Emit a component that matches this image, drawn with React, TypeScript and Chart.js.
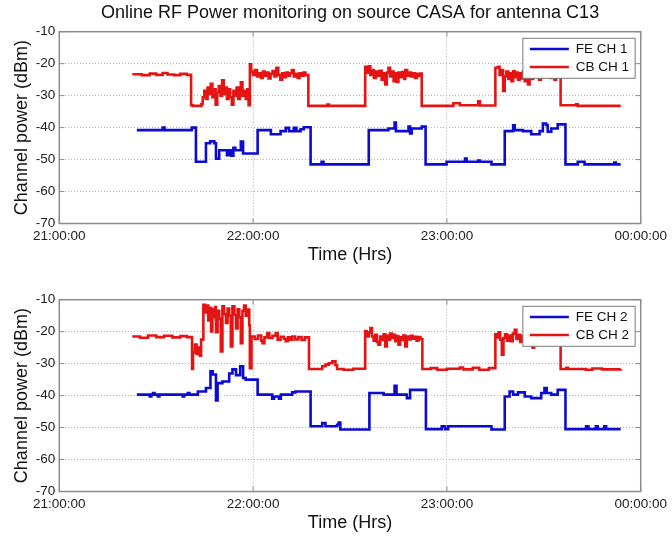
import React, { useEffect, useRef } from "react";
import { Chart, registerables } from "chart.js";

Chart.register(...registerables);

// ---------- text ----------
const TITLE = "Online RF Power monitoring on source CASA for antenna C13";
const X_TITLE = "Time (Hrs)";
const Y_TITLE = "Channel power (dBm)";
const X_TICK_LABELS = ["21:00:00", "22:00:00", "23:00:00", "00:00:00"]; // every 60 min from 21:00
const Y_MIN = -70;
const Y_MAX = -10;
const Y_STEP = 10;

// ---------- data: [minutes after 21:00, dBm] ----------
const feCh1: [number, number][] = [
  [24.0, -40.8], [32.0, -40.0], [32.6, -40.8], [41.0, -40.0], [42.3, -50.7], [45.4, -44.9], [46.7, -44.3],
  [48.0, -44.9], [48.5, -49.7], [49.5, -47.1], [51.9, -48.6], [52.6, -47.1], [53.3, -48.8], [53.9, -46.3],
  [54.5, -47.1], [56.2, -44.4], [56.9, -48.1], [61.4, -40.8], [65.5, -42.1], [68.5, -41.1], [70.1, -40.1],
  [71.1, -41.1], [72.6, -40.1], [73.4, -41.1], [74.7, -40.5], [75.7, -39.9], [77.8, -51.5], [81.2, -50.7],
  [81.8, -51.5], [95.8, -40.8], [101.9, -40.3], [103.8, -38.4], [104.2, -41.1], [108.1, -39.7], [108.6, -41.8],
  [109.1, -40.3], [112.2, -39.7], [113.4, -51.5], [119.9, -50.7], [125.6, -49.7], [126.1, -50.7], [129.7, -50.3],
  [130.2, -50.7], [133.8, -51.5], [137.9, -41.1], [140.5, -39.3], [141.0, -40.8], [143.5, -41.1], [146.1, -42.1],
  [148.7, -41.1], [149.7, -38.7], [150.7, -39.2], [151.2, -41.3], [152.3, -40.3], [154.3, -39.0], [156.7, -51.5],
  [160.5, -50.7], [162.6, -51.5], [171.8, -50.9], [172.3, -51.5], [173.8, -51.5],
];

const cbCh1: [number, number][] = [
  [22.6, -23.3], [25.5, -23.6], [28.0, -23.1], [30.0, -23.5], [32.0, -22.9], [33.5, -23.4], [35.5, -23.6],
  [37.5, -23.2], [39.5, -23.5], [40.8, -33.0], [41.3, -33.2], [44.0, -32.6],
  [44.4, -30.5], [44.9, -28.5], [45.4, -31.0], [45.9, -27.5], [46.4, -29.5], [46.9, -26.3], [47.4, -30.5],
  [47.9, -28.0], [48.4, -32.8], [48.9, -29.0], [49.4, -27.0], [49.9, -30.0], [50.4, -25.2], [50.9, -29.5],
  [51.4, -27.5], [51.9, -31.0], [52.4, -28.0], [52.9, -30.5], [53.4, -32.8], [53.9, -28.5], [54.4, -30.0],
  [54.9, -27.5], [55.4, -31.0], [55.9, -28.0], [56.2, -25.8], [56.7, -30.0], [57.2, -28.5], [57.7, -31.0],
  [58.2, -28.0], [58.6, -33.0],
  [59.0, -20.2], [59.4, -22.5], [60.0, -23.5], [60.6, -22.0], [61.2, -24.0], [61.8, -23.0], [62.4, -24.5],
  [63.0, -22.5], [63.6, -23.8], [64.2, -22.8], [64.8, -24.6], [65.4, -23.2], [66.0, -22.3], [66.6, -24.0],
  [67.2, -21.3], [67.8, -23.5], [68.4, -25.0], [69.0, -23.0], [69.6, -24.2], [70.2, -22.8], [70.8, -23.8],
  [71.4, -23.0], [72.0, -22.0], [72.6, -24.0], [73.2, -23.2], [73.8, -24.5], [74.4, -23.0], [75.0, -23.8],
  [75.6, -22.8], [76.2, -23.6],
  [77.1, -33.2], [83.0, -32.8], [83.5, -33.2],
  [94.7, -21.0], [95.2, -22.8], [95.8, -20.8], [96.3, -23.5], [96.8, -22.0], [97.4, -24.5], [98.0, -22.5],
  [98.6, -23.8], [99.2, -22.2], [99.8, -25.0], [100.4, -23.0], [100.9, -26.5], [101.4, -22.8], [101.9, -21.3],
  [102.4, -24.0], [103.0, -22.5], [103.5, -25.5], [104.0, -23.0], [104.5, -25.7], [105.0, -22.8], [105.6, -24.2],
  [106.2, -22.6], [106.8, -24.8], [107.1, -22.0], [107.7, -23.8], [108.3, -22.8], [108.9, -24.0], [109.5, -23.0],
  [110.1, -24.5], [110.7, -23.2], [111.3, -23.8], [111.8, -23.1],
  [112.2, -33.2], [122.0, -32.4], [124.0, -33.0], [129.7, -31.8], [130.2, -33.1],
  [135.0, -21.3], [135.8, -21.0], [136.3, -23.5], [136.9, -22.0], [137.4, -28.5], [137.9, -24.0], [138.4, -22.5],
  [139.0, -24.8], [139.5, -23.0], [140.0, -25.5], [140.5, -22.4], [141.0, -24.2], [141.5, -22.8], [142.0, -25.0],
  [142.5, -23.0], [143.0, -24.6], [143.5, -22.5], [144.1, -25.5], [144.6, -23.2], [145.1, -26.5], [145.6, -23.0],
  [146.1, -24.8], [146.7, -22.8], [147.3, -24.0], [147.9, -23.2], [148.5, -25.0], [149.1, -23.0], [149.7, -24.3],
  [150.3, -22.9], [150.9, -24.0], [151.5, -23.3], [152.1, -24.5], [152.7, -23.0], [153.3, -25.0], [153.8, -24.2],
  [154.3, -23.5],
  [155.2, -33.0], [160.0, -32.7], [160.5, -33.2], [173.8, -33.2],
];

const feCh2: [number, number][] = [
  [24.0, -39.7], [28.0, -40.3], [28.5, -39.7], [29.0, -39.2], [29.5, -39.7], [30.5, -40.3], [31.0, -39.7],
  [38.2, -40.3], [38.7, -39.7], [39.8, -39.2], [40.3, -39.7], [42.9, -38.7], [45.4, -37.6], [46.8, -32.4],
  [47.5, -33.4], [48.5, -41.5], [49.0, -36.1], [50.5, -35.6], [52.6, -33.1], [53.6, -31.8], [54.7, -33.6],
  [56.0, -30.8], [56.9, -34.5], [57.7, -35.0], [61.4, -39.7], [65.9, -41.0], [66.5, -40.3], [68.0, -41.0],
  [68.6, -39.7], [72.1, -39.0], [73.1, -38.7], [77.8, -49.6], [81.4, -48.6], [82.4, -49.6], [86.0, -49.1],
  [86.5, -48.4], [87.0, -50.6], [96.0, -39.2], [100.4, -39.7], [103.8, -36.9], [104.4, -39.7], [107.6, -40.8],
  [108.6, -38.2], [113.5, -50.5], [118.4, -49.6], [119.4, -50.5], [120.4, -49.6], [133.8, -50.6], [137.9, -40.3],
  [139.4, -38.7], [140.5, -39.7], [142.0, -39.0], [144.1, -40.3], [146.1, -40.8], [149.2, -39.2], [150.2, -37.6],
  [150.9, -39.2], [152.3, -39.7], [154.3, -38.2], [156.7, -50.5], [163.1, -49.6], [163.8, -50.5], [166.1, -49.6],
  [166.7, -50.5], [168.7, -49.6], [169.3, -50.5], [173.8, -50.5],
];

const cbCh2: [number, number][] = [
  [22.6, -21.5], [25.0, -21.9], [27.5, -21.2], [30.0, -21.7], [32.5, -21.3], [35.0, -21.8], [37.5, -21.4],
  [39.5, -21.7], [41.1, -31.7], [41.4, -26.5], [42.0, -24.0], [42.5, -27.0], [43.0, -25.0], [43.5, -27.5],
  [43.9, -22.5], [44.6, -11.6],
  [45.1, -14.0], [45.6, -11.8], [46.1, -16.5], [46.6, -12.5], [47.0, -19.9], [47.4, -13.0], [47.9, -15.5],
  [48.3, -12.3], [48.5, -20.2], [49.0, -13.5], [49.5, -16.0], [50.0, -26.2], [50.5, -12.1], [51.0, -14.5],
  [51.6, -17.3], [52.1, -12.8], [52.6, -15.0], [53.1, -24.6], [53.6, -12.1], [54.2, -14.8], [54.7, -19.0],
  [55.2, -13.0], [55.7, -15.5], [56.2, -23.6], [56.7, -13.5], [57.2, -11.8], [57.7, -15.0], [58.3, -13.1],
  [58.8, -18.0], [59.0, -31.4], [59.5, -21.5],
  [60.5, -22.3], [61.5, -21.2], [62.5, -22.8], [62.9, -23.6], [63.5, -21.8], [64.4, -20.4], [65.0, -22.0],
  [66.0, -21.3], [67.0, -20.4], [67.6, -22.5], [68.5, -21.6], [69.5, -22.2], [70.1, -23.0], [70.8, -21.8],
  [71.5, -22.5], [72.1, -21.5], [73.0, -22.4], [74.0, -21.7], [75.0, -22.6], [76.0, -21.8],
  [77.3, -31.7], [81.4, -30.8], [82.4, -30.3], [83.4, -29.9], [84.5, -29.3], [85.5, -30.5], [86.0, -31.7],
  [88.0, -31.9], [91.0, -31.6],
  [94.7, -19.8], [95.2, -21.5], [95.8, -20.3], [96.3, -18.9], [96.8, -21.5], [97.3, -22.8], [97.8, -21.0],
  [98.3, -23.2], [98.8, -24.1], [99.3, -21.5], [99.9, -22.6], [100.4, -20.8], [100.9, -24.6], [101.4, -21.2],
  [101.9, -22.5], [102.4, -20.6], [103.0, -22.0], [103.5, -21.0], [104.0, -23.0], [104.5, -21.4], [105.0, -24.1],
  [105.5, -21.8], [106.0, -22.6], [106.5, -21.2], [107.1, -24.6], [107.6, -21.5], [108.2, -22.4], [108.8, -21.3],
  [109.4, -22.2], [110.0, -21.6], [110.6, -22.8], [111.2, -21.7], [111.8, -22.3],
  [112.4, -31.7], [115.0, -31.4], [117.0, -31.9], [120.0, -31.6], [124.0, -31.2], [125.0, -31.8], [128.0, -31.3],
  [130.0, -31.9], [133.0, -31.4],
  [135.0, -20.8], [135.5, -21.8], [136.0, -20.2], [136.5, -22.5], [137.0, -27.2], [137.5, -22.0], [138.0, -20.8],
  [138.6, -22.8], [139.2, -21.2], [139.8, -23.0], [140.4, -20.6], [141.0, -19.4], [141.5, -22.3], [142.1, -21.0],
  [142.7, -23.2], [143.3, -21.4], [143.9, -22.6], [144.5, -21.3], [145.2, -22.8], [146.0, -21.5], [146.5, -25.0],
  [147.0, -22.0], [148.0, -21.4], [149.0, -22.5], [150.0, -21.2], [151.0, -22.3], [152.0, -21.5], [153.0, -22.6],
  [154.0, -21.8],
  [155.2, -31.7], [157.0, -31.3], [157.5, -31.7], [163.0, -31.9], [165.0, -31.5], [168.0, -31.8], [173.8, -31.7],
];

// ---------- style ----------
const FONT = "'Liberation Sans', Arial, Helvetica, sans-serif";
const BLUE = "#0b0bd2";
const RED = "#e41414";
const AXIS_COLOR = "#8c8c8c";
const GRID_COLOR = "#b4b4b4";
const TEXT_COLOR = "#111111";
const W = 672;
const H = 268;

const frameLegend = {
  id: "frameLegend",
  afterDatasetsDraw(chart: any, _args: any, opts: any) {
    const { ctx, chartArea: a, scales } = chart;
    const xs = scales.x;
    const ys = scales.y;
    const line = (x1: number, y1: number, x2: number, y2: number) => {
      ctx.beginPath();
      ctx.moveTo(x1, y1);
      ctx.lineTo(x2, y2);
      ctx.stroke();
    };
    ctx.save();
    ctx.setLineDash([]);
    ctx.strokeStyle = AXIS_COLOR;
    ctx.lineWidth = 1;
    for (const t of ys.ticks) {
      const py = ys.getPixelForValue(t.value);
      line(a.left, py, a.left + 5, py);
      line(a.right - 5, py, a.right, py);
    }
    for (const t of xs.ticks) {
      const px = xs.getPixelForValue(t.value);
      line(px, a.bottom, px, a.bottom - 5);
      line(px, a.top, px, a.top + 5);
    }
    ctx.lineWidth = 1.5;
    ctx.strokeRect(a.left, a.top, a.right - a.left, a.bottom - a.top);

    // plot title, centred over the axes
    if (opts && opts.title) {
      ctx.font = `18px ${FONT}`;
      ctx.fillStyle = TEXT_COLOR;
      ctx.textAlign = "center";
      ctx.textBaseline = "middle";
      ctx.fillText(opts.title, (a.left + a.right) / 2, 13);
    }

    // legend box inside the axes, top-right
    const ds = chart.data.datasets;
    ctx.font = `13.5px ${FONT}`;
    const textW = Math.max(...ds.map((d: any) => ctx.measureText(d.label).width));
    const boxW = 53 + textW + 6;
    const boxH = 40;
    const bx = a.right - 5.6 - boxW;
    const by = a.top + 6.6;
    ctx.fillStyle = "#ffffff";
    ctx.fillRect(bx, by, boxW, boxH);
    ctx.lineWidth = 1;
    ctx.strokeStyle = "#7a7a7a";
    ctx.strokeRect(bx, by, boxW, boxH);
    ds.forEach((d: any, i: number) => {
      const ly = by + 10.8 + i * 18;
      ctx.strokeStyle = d.borderColor;
      ctx.lineWidth = 2.5;
      line(bx + 7, ly, bx + 46, ly);
      ctx.fillStyle = TEXT_COLOR;
      ctx.textBaseline = "middle";
      ctx.textAlign = "left";
      ctx.fillText(d.label, bx + 53, ly + 0.5);
    });
    ctx.restore();
  },
};

function toXY(series: [number, number][]) {
  return series.map(([x, y]) => ({ x, y }));
}

type PanelProps = {
  fe: [number, number][];
  cb: [number, number][];
  feLabel: string;
  cbLabel: string;
  showTitle: boolean;
  top: number;
};

function PowerPanel({ fe, cb, feLabel, cbLabel, showTitle, top }: PanelProps) {
  const ref = useRef<HTMLCanvasElement>(null);
  useEffect(() => {
    const tickFont = { family: FONT, size: 13.5 };
    const titleFont = { family: FONT, size: 18 };
    const chart = new Chart(ref.current as HTMLCanvasElement, {
      type: "line",
      data: {
        datasets: [
          {
            label: feLabel,
            data: toXY(fe),
            borderColor: BLUE,
            backgroundColor: BLUE,
            borderWidth: 2.6,
            pointRadius: 0,
            stepped: true,
            fill: false,
          },
          {
            label: cbLabel,
            data: toXY(cb),
            borderColor: RED,
            backgroundColor: RED,
            borderWidth: 2.6,
            pointRadius: 0,
            stepped: true,
            fill: false,
          },
        ],
      },
      options: {
        responsive: false,
        animation: false,
        events: [],
        layout: { padding: { top: 31.7, right: 28.7, bottom: 0, left: 0 } },
        plugins: {
          legend: { display: false },
          tooltip: { enabled: false },
          title: { display: false },
          frameLegend: { title: showTitle ? TITLE : "" },
        },
        scales: {
          x: {
            type: "linear",
            min: 0,
            max: 180,
            afterFit: (s: any) => {
              s.height = 44.5;
            },
            ticks: {
              stepSize: 60,
              autoSkip: false,
              maxRotation: 0,
              padding: 5,
              color: "#222222",
              font: tickFont,
              callback: (v: any) => X_TICK_LABELS[Math.round(Number(v) / 60)] ?? "",
            },
            grid: { color: GRID_COLOR, lineWidth: 1, drawTicks: false },
            border: { display: false, dash: [1, 2] },
            title: {
              display: true,
              text: X_TITLE,
              color: TEXT_COLOR,
              font: titleFont,
              padding: { top: 0, bottom: 2.2 },
            },
          },
          y: {
            type: "linear",
            min: Y_MIN,
            max: Y_MAX,
            afterFit: (s: any) => {
              s.width = 59.3;
            },
            ticks: {
              stepSize: Y_STEP,
              padding: 4,
              color: "#222222",
              font: tickFont,
            },
            grid: { color: GRID_COLOR, lineWidth: 1, drawTicks: false },
            border: { display: false, dash: [1, 2] },
            title: {
              display: true,
              text: Y_TITLE,
              color: TEXT_COLOR,
              font: titleFont,
              padding: { top: 11, bottom: 0 },
            },
          },
        },
      } as any,
      plugins: [frameLegend],
    });
    return () => chart.destroy();
  }, [fe, cb, feLabel, cbLabel, showTitle]);

  return (
    <canvas
      ref={ref}
      width={W}
      height={H}
      style={{ position: "absolute", left: 0, top, width: W, height: H, display: "block" }}
    />
  );
}

export default function App() {
  return (
    <div
      style={{
        position: "absolute",
        left: 0,
        top: 0,
        width: 672,
        height: 536,
        background: "#ffffff",
        overflow: "hidden",
      }}
    >
      <PowerPanel fe={feCh1} cb={cbCh1} feLabel="FE CH 1" cbLabel="CB CH 1" showTitle={true} top={0} />
      <PowerPanel fe={feCh2} cb={cbCh2} feLabel="FE CH 2" cbLabel="CB CH 2" showTitle={false} top={268} />
    </div>
  );
}
